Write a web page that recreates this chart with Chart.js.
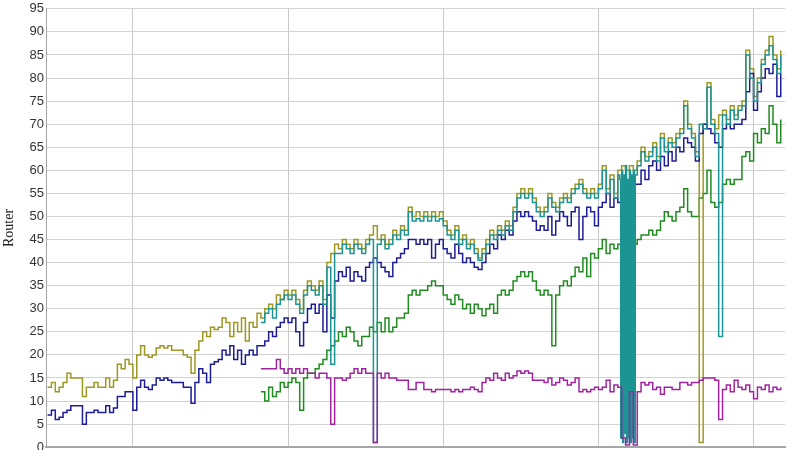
<!DOCTYPE html>
<html>
<head>
<meta charset="utf-8">
<script src="https://cdn.jsdelivr.net/npm/chart.js@4.4.1/dist/chart.umd.min.js"></script>
<style>
    body { margin: 0; background: #fff; overflow: hidden; }
    canvas { display: block; margin-top: -1px; }
</style>
</head>
<body>
<canvas id="routerChart" width="800" height="458"></canvas>
<script>
// Sample positions: olive/blue start at -22, the other three series start at 33
const oliveStart = -22;
const blueStart = -22;
const tealStart = 33;
const greenStart = 33;
const purpleStart = 33;

const oliveValues = [
    13, 14, 12, 13, 14, 16, 15, 15, 15, 11,
    13, 13, 14, 13, 13, 15, 13, 14.5, 18, 17,
    19, 18, 15, 20, 22, 20, 19.5, 20, 21.5, 22,
    21.5, 22, 21, 21, 21, 20, 19.5, 16, 21, 23,
    25, 24, 26, 25.5, 26, 28, 27, 24, 27, 25,
    28, 23, 27, 26, 29, 28, 30, 31, 30, 33,
    32, 34, 33, 34, 32, 30, 34, 36, 35, 34,
    36, 32, 40, 42, 44, 43, 45, 44, 43, 45,
    44, 43, 45, 46, 48, 45, 46, 44, 45, 47,
    46, 48, 47, 52, 50, 51, 50, 51, 50, 51,
    50, 51, 49, 47, 46, 48, 45, 46, 44, 45,
    43, 41, 43, 45, 47, 46, 48, 47, 49, 48,
    52, 55, 56, 55, 56, 54, 52, 51, 52, 55,
    53, 52, 54, 55, 54, 56, 57, 58, 56, 55,
    56, 55, 57, 61, 56, 59, 55, 60, 61, 60,
    61, 60, 62, 65, 63, 64, 66, 63, 68, 65,
    67, 66, 68, 69, 75, 70, 68, 64, 1, 70,
    79, 71, 69, 72, 73, 71, 74, 72, 74, 75,
    86, 82, 76, 80, 84, 86, 89, 85, 82, 86
];

const blueValues = [
    7, 8, 6, 6.5, 7.5, 8, 9, 9, 9, 5,
    7.5, 7.5, 8, 7.5, 7.5, 9, 7.5, 8.5, 11, 11,
    12, 12, 8, 13, 14.5, 13, 12.5, 13.5, 15, 14.5,
    15, 14.5, 14, 14, 14, 13, 13, 9.5, 14, 17,
    16, 14, 18, 18.5, 19, 21, 20, 22, 19, 21,
    18, 20, 21, 20, 22, 22, 23, 25, 24, 26,
    27, 28, 27, 28, 25, 22, 27, 30, 31, 29,
    31, 25, 33, 28, 36, 38, 37, 39, 36, 38,
    37, 36, 39, 40, 41, 40, 39, 38, 37, 40,
    41, 42, 43, 45, 45, 44, 45, 44, 45, 41,
    44, 45, 43, 42, 41, 44, 42, 40, 41, 40,
    39, 38.5, 40, 42, 44, 43, 46, 45, 47, 46,
    49, 51, 50, 51, 50, 49, 47, 48, 47, 50,
    46, 49, 51, 50, 48, 51, 52, 45, 50, 52,
    51, 48, 52, 53, 55, 52, 54, 53, 56, 57,
    58, 57, 57, 60, 58, 61, 62, 60, 63, 61,
    64, 62, 65, 64, 67, 66, 65, 62, 68, 70,
    69, 68, 66, 65, 69, 70, 69, 70, 70, 71,
    77, 81, 73, 77, 80, 82, 81, 83, 76, 81
];

const tealValues = [
    27, 29, 30, 28, 31, 32, 33, 32, 33, 31,
    29, 33, 35, 34, 33, 35, 31, 39, 18, 42,
    42, 44, 43, 42, 44, 43, 42, 44, 45, 1,
    44, 45, 43, 44, 46, 45, 47, 46, 51, 49,
    49.5, 49, 50, 49, 50, 49, 49.5, 48, 46, 45,
    47, 44, 45, 43, 44, 42, 40.5, 42, 44, 46,
    45, 47, 46, 48, 47, 51, 54, 55, 54, 55,
    53, 51, 50, 51, 54, 52, 51, 53, 54, 53,
    55, 56, 57, 55, 54, 55, 54, 56, 60, 55,
    58, 54, 59, 59, 58, 60, 59, 61, 64, 62,
    63, 65, 62, 67, 64, 66, 65, 67, 68, 74,
    69, 67, 63, 70, 69, 78, 70, 68, 24, 72,
    70, 73, 71, 73, 74, 85, 80, 75, 79, 83,
    85, 87, 84, 81, 85
];

// dense dropout burst of the teal series (quarter-sample spacing)
const tealBurstStart = 125.5;
const tealBurstStep = 0.25;
const tealBurstValues = [58, 2, 60, 1, 59, 3, 61, 1, 58, 2, 60, 1, 59, 2, 60, 1, 59];

const greenValues = [
    12, 10, 13, 11, 12, 14, 13, 14, 15, 14,
    8, 15, 16, 16, 17, 18, 19, 21, 22, 23,
    25, 24, 26, 25, 23, 22, 24, 24, 26, 25,
    27, 25, 28, 25, 26, 28, 28, 29, 33, 34,
    33, 34, 34, 35, 36, 35, 35, 33, 32, 31,
    33, 32, 30, 31, 29, 31, 30, 28.5, 30, 31,
    29, 33, 34, 33, 34, 36, 37, 38, 37, 38,
    36, 34, 33, 34, 33, 22, 33, 35, 36, 35,
    37, 39, 38, 41, 37, 42, 41, 43, 45, 42,
    44, 43, 44, 44, 44, 45, 44, 45, 46, 46,
    47, 46, 47, 49, 51, 50, 49, 51, 52, 56,
    51, 50, 50, 54, 55, 60, 53, 52, 53, 57,
    58, 57, 58, 58, 63, 64, 62, 68, 66, 69,
    68, 74, 70, 66, 71
];

const purpleValues = [
    17, 17, 17, 17, 19, 17, 16, 17, 16, 17,
    16, 17, 16, 16, 15, 16, 16, 15, 5, 15,
    15, 14.5, 15, 16, 17, 16, 17, 16, 16, 1,
    16, 15, 16, 15, 15, 14.5, 14.5, 14.5, 12.5, 12.5,
    14, 14, 12.5, 12.5, 12, 12.5, 12.5, 12.5, 12.5, 12,
    12.5, 12, 12.5, 12.5, 13, 12.5, 12, 14, 15, 14.5,
    16, 15, 14.5, 16, 15, 15.5, 16.5, 16, 16.5, 16,
    14.5, 14.5, 14.5, 14, 15, 13.5, 14, 15, 14.5, 13.5,
    14, 15, 12, 12.5, 12, 12.5, 13, 12.5, 13, 14.5,
    12, 13.5, 13, 2, 0.5, 12, 0.5, 12, 14, 13.5,
    14, 12.5, 13, 11.5, 13, 13, 12.5, 12.5, 14, 14,
    13.5, 14, 14, 14.5, 15, 15, 15, 14.5, 6, 12.5,
    13.5, 12, 14.5, 13, 12.5, 13.5, 12, 10.5, 13, 12.5,
    13.5, 12, 13, 12.5, 13
];

const yTicks = [0, 5, 10, 15, 20, 25, 30, 35, 40, 45, 50, 55, 60, 65, 70, 75, 80, 85, 90, 95];
const xGridLines = [0, 40, 80, 120, 160];

function toPoints(values, start, step) {
    return values.map((v, i) => ({ x: start + i * (step || 1), y: v }));
}

// teal: main samples with the burst spliced in
const tealBurst = toPoints(tealBurstValues, tealBurstStart, tealBurstStep);
const tealPoints = toPoints(tealValues, tealStart)
    .filter(p => p.x < tealBurstStart || p.x > tealBurst[tealBurst.length - 1].x)
    .concat(tealBurst)
    .sort((a, b) => a.x - b.x);

function lineSet(label, data, color, order) {
    return {
        label: label,
        data: data,
        borderColor: color,
        backgroundColor: color,
        borderWidth: 1.5,
        pointRadius: 0,
        stepped: true,
        fill: false,
        order: order
    };
}

// canvas is a little taller than the window so the x axis sits at the cropped bottom edge
const ctx = document.getElementById('routerChart');
const routerChart = new Chart(ctx, {
    type: 'line',
    data: {
        datasets: [
            lineSet('purple', toPoints(purpleValues, purpleStart), '#a024a0', 0),
            lineSet('teal', tealPoints, '#1d9494', 1),
            lineSet('blue', toPoints(blueValues, blueStart), '#1c1c94', 2),
            lineSet('olive', toPoints(oliveValues, oliveStart), '#9d9822', 3),
            lineSet('green', toPoints(greenValues, greenStart), '#1f8c1f', 4)
        ]
    },
    options: {
        responsive: false,
        animation: false,
        devicePixelRatio: 1,
        layout: {
            padding: { left: 0, right: 15, top: 4, bottom: 2 }
        },
        plugins: {
            legend: { display: false },
            tooltip: { enabled: false }
        },
        scales: {
            x: {
                type: 'linear',
                min: -22.4,
                max: 168.1,
                afterBuildTicks: function(scale) {
                    scale.ticks = xGridLines.map(v => ({ value: v }));
                },
                afterFit: function(scale) {
                    scale.height = 1;
                },
                ticks: { display: false },
                grid: {
                    color: '#c9c9c9',
                    lineWidth: 1,
                    drawTicks: false
                },
                border: { display: true, color: '#a6a6a6', width: 2 }
            },
            y: {
                min: 0,
                max: 95,
                afterBuildTicks: function(scale) {
                    scale.ticks = yTicks.map(v => ({ value: v }));
                },
                afterFit: function(scale) {
                    scale.width = 46;
                },
                ticks: {
                    padding: 2,
                    color: '#333',
                    font: { family: 'Liberation Sans', size: 13 }
                },
                grid: {
                    color: '#d2d2d2',
                    lineWidth: 1,
                    drawTicks: false
                },
                border: { display: true, color: '#a6a6a6', width: 1 },
                title: {
                    display: true,
                    text: 'Router',
                    color: '#222',
                    padding: { top: 1, bottom: 0 },
                    font: { family: 'Liberation Serif', size: 14 }
                }
            }
        }
    }
});
</script>
</body>
</html>
